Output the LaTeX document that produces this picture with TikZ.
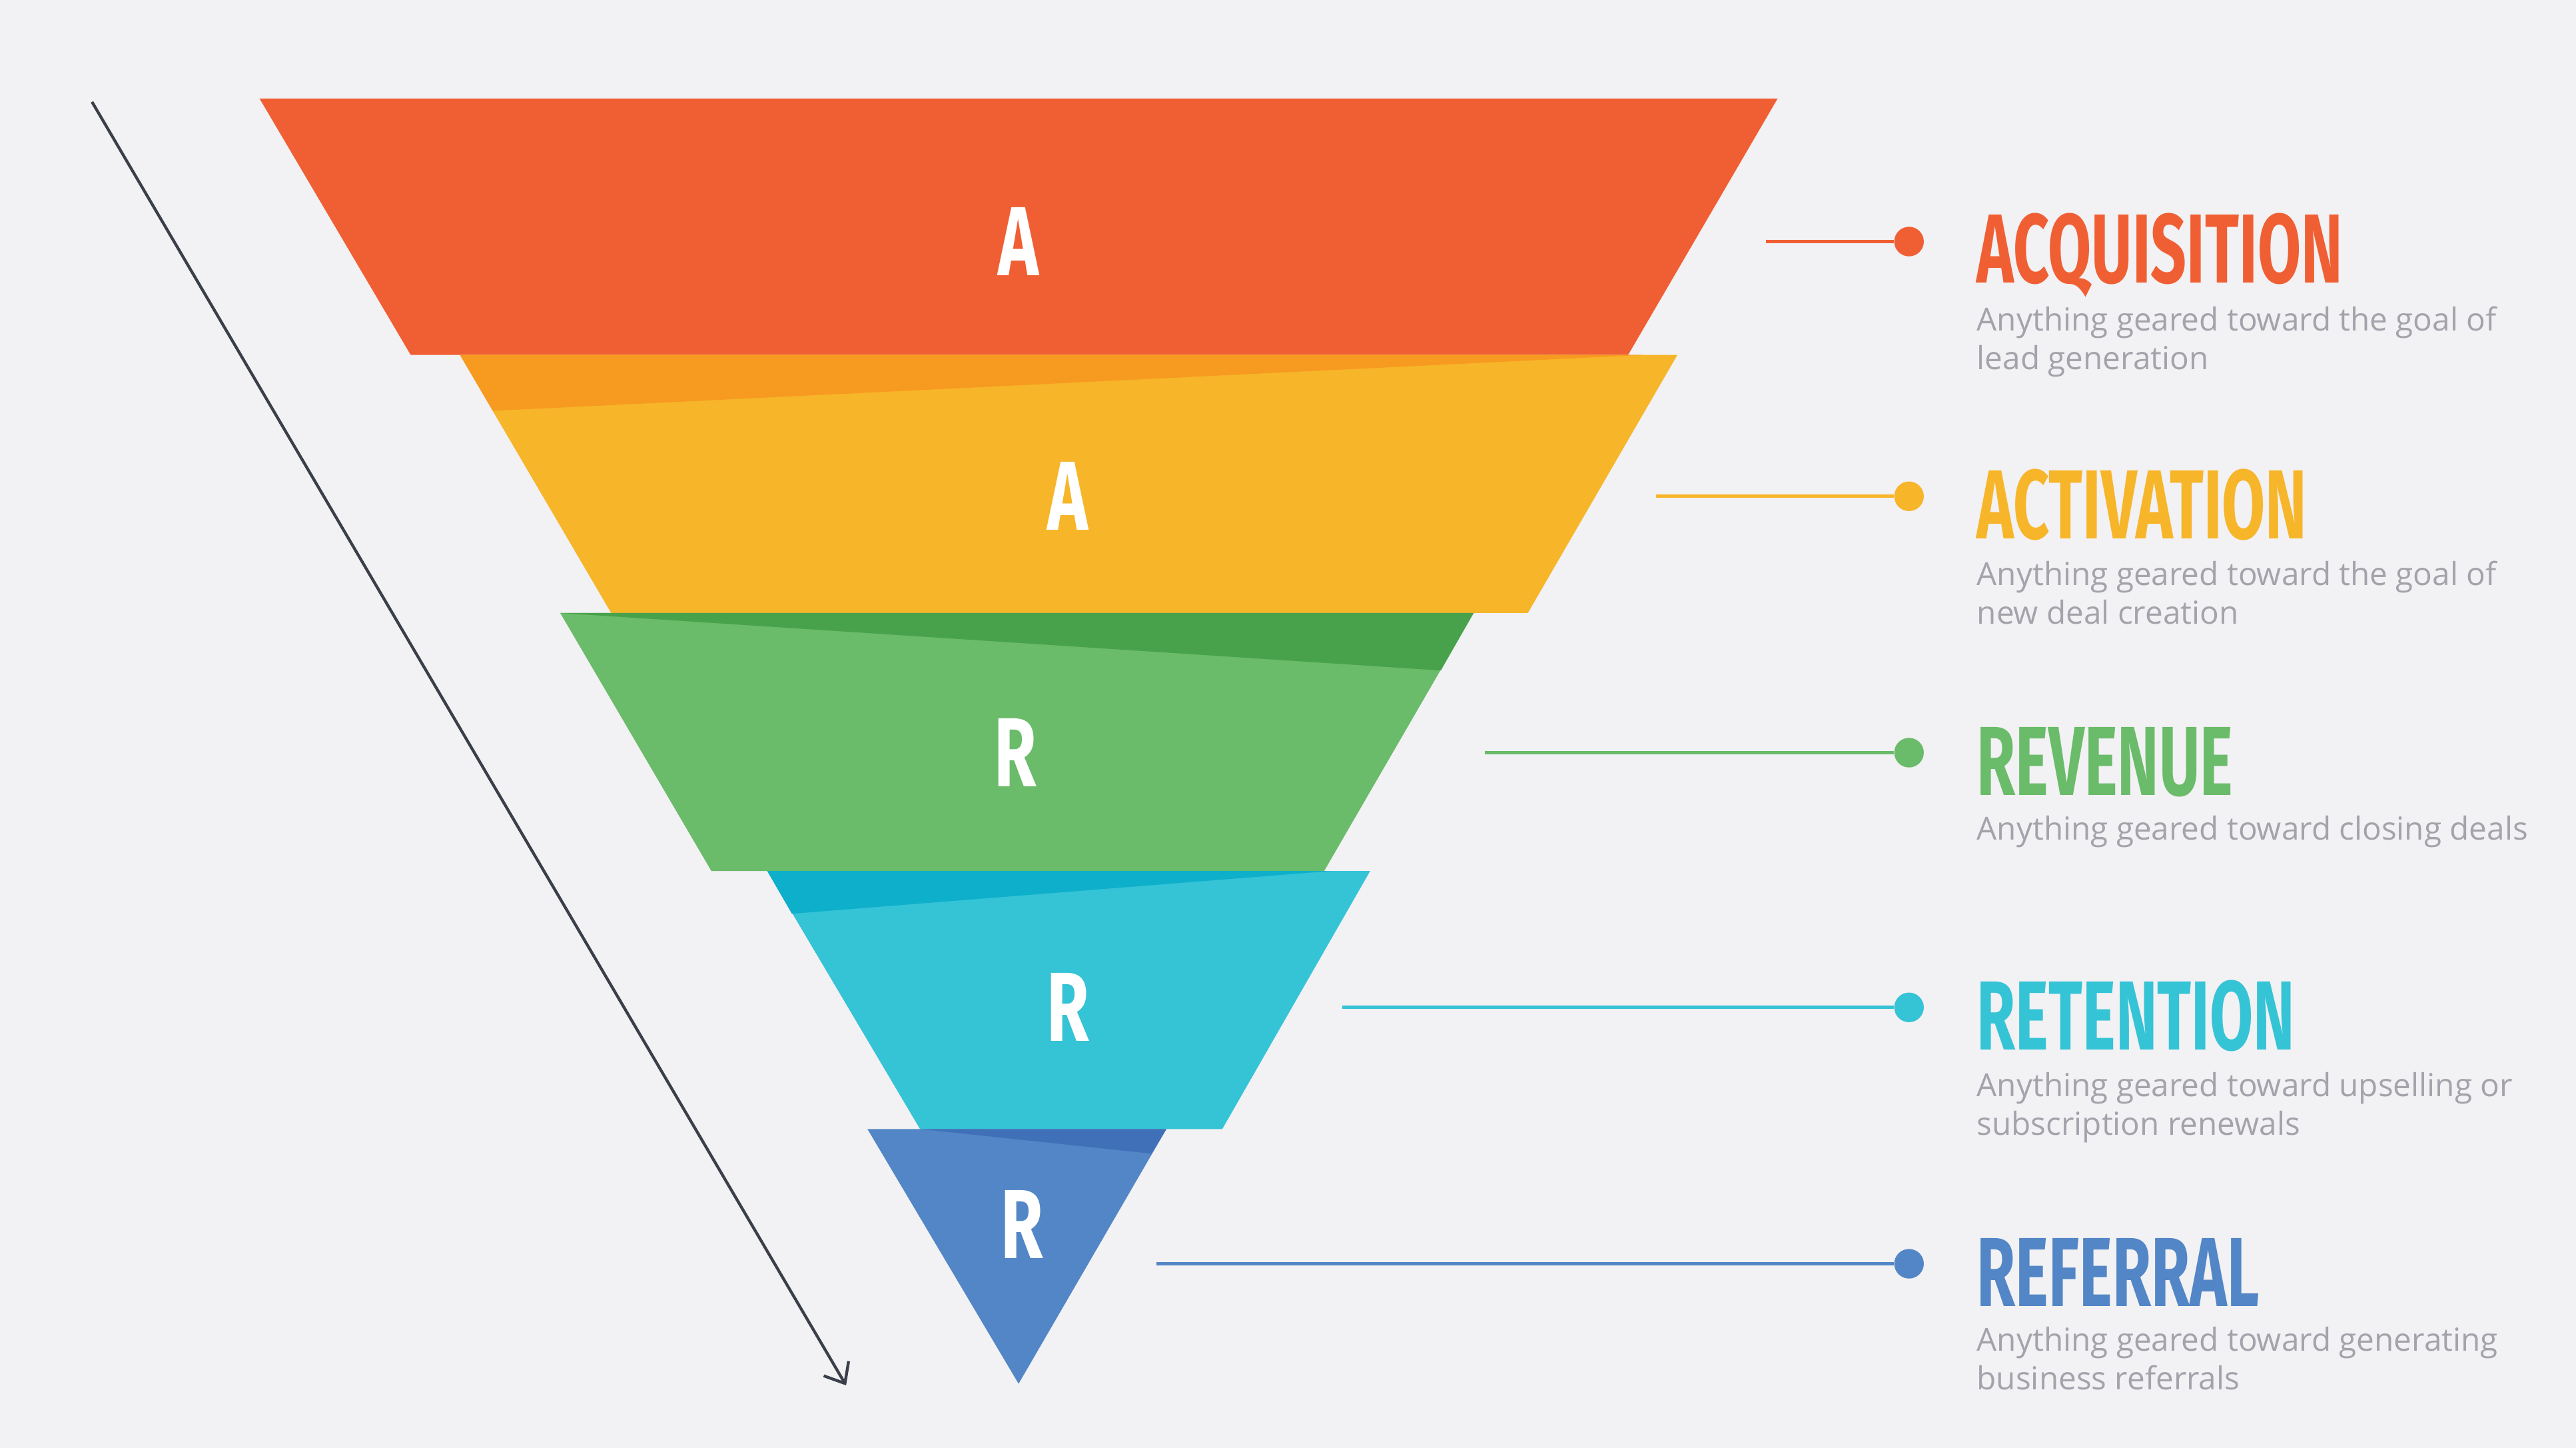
\documentclass[tikz,border=0pt]{standalone}
\usepackage{fontspec}
\setmainfont{Open Sans}
\newfontfamily\headfont{Fira Sans}
\usetikzlibrary{arrows.meta}
\definecolor{cRed}{HTML}{F05F33}
\definecolor{cYel}{HTML}{F7B52A}
\definecolor{cYelD}{HTML}{F79A20}
\definecolor{cGrn}{HTML}{6ABB6A}
\definecolor{cGrnD}{HTML}{48A24B}
\definecolor{cCyn}{HTML}{35C3D6}
\definecolor{cCynD}{HTML}{0EAFCB}
\definecolor{cBlu}{HTML}{5286C6}
\definecolor{cBluD}{HTML}{3F70B8}
\definecolor{bg}{HTML}{F2F1F3}
\definecolor{desc}{HTML}{A3A3AB}
\definecolor{arr}{HTML}{3A3F4A}
\tikzset{
 letter/.style={text=white,font=\headfont\bfseries\fontsize{34}{36}\selectfont},
 title/.style={anchor=base west,inner sep=0pt,font=\headfont\bfseries\fontsize{34}{36}\selectfont},
 descr/.style={anchor=north west,inner sep=0pt,align=left,text=desc,font=\fontsize{11}{13.5}\selectfont},
 dot/.style={circle,inner sep=0pt,minimum size=0.36cm},
}
\begin{document}
\begin{tikzpicture}[x=0.02cm,y=-0.02cm]
\fill[bg] (0,0) rectangle (1568,881);
% bands
\fill[cRed] (158,60)--(1082,60)--(991,216)--(250,216)--cycle;
\fill[cYel] (280,216)--(1021,216)--(930,373)--(372,373)--cycle;
\fill[cYelD] (280,216)--(1000,216)--(300,250)--cycle;
\fill[cGrn] (341,373)--(897,373)--(806,530)--(433,530)--cycle;
\fill[cGrnD] (341,373)--(897,373)--(877,408)--cycle;
\fill[cCyn] (467,530)--(834,530)--(744,687)--(560,687)--cycle;
\fill[cCynD] (467,530)--(810,530)--(482,556)--cycle;
\fill[cBlu] (528,687)--(710,687)--(620,842)--cycle;
\fill[cBluD] (560,687)--(710,687)--(701,702)--cycle;
% letters
\node[letter] (l1) at (620,147) {\scalebox{0.7}[1]{A}};
\node[letter] (l2) at (650,302) {\scalebox{0.7}[1]{A}};
\node[letter] (l3) at (618,458) {\scalebox{0.7}[1]{R}};
\node[letter] (l4) at (650,613) {\scalebox{0.7}[1]{R}};
\node[letter] (l5) at (622,745) {\scalebox{0.7}[1]{R}};
% arrow
\coordinate (as) at (56,62);
\coordinate (ae) at (515,843);
\draw[arr,line width=1pt,-{Straight Barb[length=6pt,width=10pt]}] (as)--(ae);
% connectors
\foreach \y/\x/\c/\n in {147/1075/cRed/1,302/1008/cYel/2,458/904/cGrn/3,613/817/cCyn/4,769/704/cBlu/5}{
 \coordinate (s\n) at (\x,\y);
 \node[dot,fill=\c] (d\n) at (1162,\y) {};
 \draw[\c,line width=1.2pt] (s\n)--(d\n);
}
% titles
\node[title,text=cRed] (t1) at (1203,172) {\scalebox{0.64}[1]{ACQUISITION}};
\node[title,text=cYel] (t2) at (1203,328) {\scalebox{0.64}[1]{ACTIVATION}};
\node[title,text=cGrn] (t3) at (1203,484) {\scalebox{0.64}[1]{REVENUE}};
\node[title,text=cCyn] (t4) at (1203,639) {\scalebox{0.64}[1]{RETENTION}};
\node[title,text=cBlu] (t5) at (1203,795) {\scalebox{0.64}[1]{REFERRAL}};
\node[descr] (e1) at (1203,186) {Anything geared toward the goal of\\lead generation};
\node[descr] (e2) at (1203,341) {Anything geared toward the goal of\\new deal creation};
\node[descr] (e3) at (1203,496) {Anything geared toward closing deals};
\node[descr] (e4) at (1203,652) {Anything geared toward upselling or\\subscription renewals};
\node[descr] (e5) at (1203,807) {Anything geared toward generating\\business referrals};
\end{tikzpicture}
\end{document}
